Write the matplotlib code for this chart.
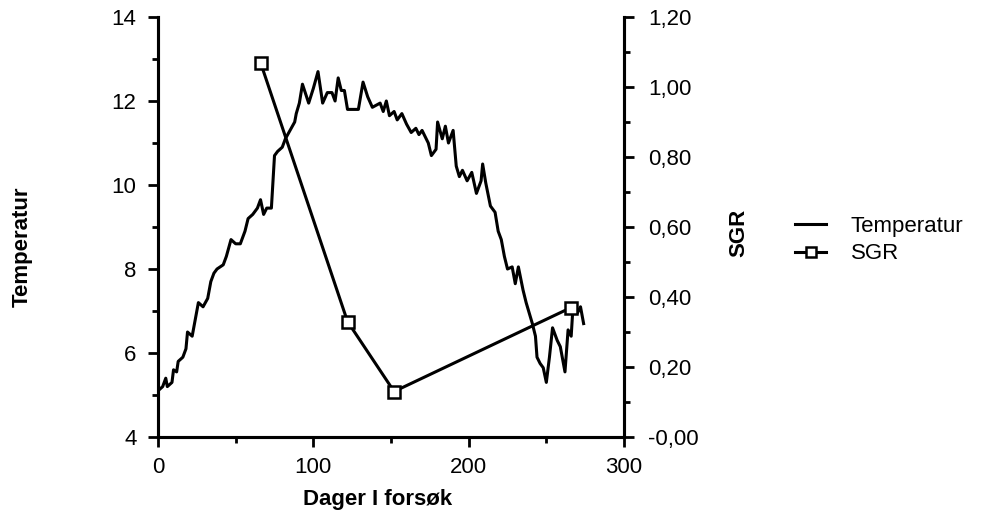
import matplotlib
matplotlib.use("Agg")
import matplotlib.pyplot as plt
from matplotlib.ticker import MultipleLocator, FuncFormatter

plt.rcParams['font.family'] = ['Liberation Sans', 'DejaVu Sans']

temp_days = [0, 3, 5, 6, 9, 10, 12, 13, 16, 18, 19, 22, 24, 26, 29, 32, 34, 36, 38, 42,
             44, 47, 50, 53, 56, 58, 61, 64, 66, 68, 70, 73, 75, 77, 80, 82, 85, 88, 89, 91,
             93, 97, 100, 103, 106, 109, 112, 114, 116, 118, 120, 122, 129, 132, 135, 138, 143, 145, 147, 149,
             152, 154, 157, 160, 163, 166, 168, 170, 174, 176, 179, 180, 183, 185, 187, 190, 192, 194, 196, 199,
             202, 205, 208, 209, 211, 214, 217, 219, 221, 223, 225, 228, 230, 232, 235, 237, 239, 241, 243, 244,
             246, 248, 250, 252, 254, 257, 259, 262, 264, 266, 267, 270, 272, 274]
temp_vals = [5.1, 5.2, 5.4, 5.2, 5.3, 5.6, 5.55, 5.8, 5.9, 6.1, 6.5, 6.4, 6.8, 7.2, 7.1, 7.3, 7.7, 7.9, 8.0, 8.1,
             8.3, 8.7, 8.6, 8.6, 8.9, 9.2, 9.3, 9.45, 9.65, 9.3, 9.45, 9.45, 10.7, 10.8, 10.9, 11.1, 11.3, 11.5, 11.7, 11.95,
             12.4, 11.95, 12.3, 12.7, 11.95, 12.2, 12.2, 12.0, 12.55, 12.25, 12.25, 11.8, 11.8, 12.45, 12.1, 11.85, 11.95, 11.75, 12.0, 11.65,
             11.75, 11.55, 11.7, 11.45, 11.25, 11.35, 11.2, 11.3, 11.0, 10.7, 10.85, 11.5, 11.1, 11.4, 11.0, 11.3, 10.45, 10.2, 10.35, 10.1,
             10.3, 9.8, 10.1, 10.5, 10.05, 9.5, 9.35, 8.9, 8.7, 8.3, 8.0, 8.05, 7.65, 8.05, 7.5, 7.2, 6.95, 6.7, 6.4, 5.9,
             5.75, 5.65, 5.3, 5.9, 6.6, 6.3, 6.15, 5.55, 6.55, 6.4, 7.0, 6.95, 7.1, 6.7]

sgr_days = [66, 122, 152, 266]
sgr_vals = [1.07, 0.33, 0.13, 0.37]

W, H = 992, 530
fig = plt.figure(figsize=(W / 100, H / 100), dpi=100)
ax = fig.add_axes([158 / W, 1 - 437 / H, (624 - 158) / W, (437 - 17) / H])
ax2 = ax.twinx()

lt, = ax.plot(temp_days, temp_vals, color='black', lw=2.2, label='Temperatur')
ls, = ax2.plot(sgr_days, sgr_vals, color='black', lw=2.2, marker='s', markersize=9,
               markerfacecolor='white', markeredgecolor='black', markeredgewidth=1.8,
               label='SGR', clip_on=False, zorder=5)

ax.set_xlim(0, 300)
ax.set_ylim(4, 14)
ax2.set_ylim(0, 1.2)

for a in (ax, ax2):
    a.spines['top'].set_visible(False)
    for s in ('left', 'right', 'bottom'):
        a.spines[s].set_linewidth(2.2)

ax.xaxis.set_major_locator(MultipleLocator(100))
ax.xaxis.set_minor_locator(MultipleLocator(50))
ax.yaxis.set_major_locator(MultipleLocator(2))
ax.yaxis.set_minor_locator(MultipleLocator(1))
ax2.yaxis.set_major_locator(MultipleLocator(0.2))
ax2.yaxis.set_minor_locator(MultipleLocator(0.1))

def sgr_fmt(v, pos):
    s = f"{v:.2f}".replace('.', ',')
    if abs(v) < 1e-9:
        s = "-0,00"
    return s
ax2.yaxis.set_major_formatter(FuncFormatter(sgr_fmt))

ax.tick_params(axis='both', which='major', direction='out', length=7.5, width=2, labelsize=16)
ax.tick_params(axis='y', which='major', pad=8)
ax.tick_params(axis='x', which='major', pad=7)
ax.tick_params(axis='both', which='minor', direction='out', length=4, width=2)
ax2.tick_params(axis='y', which='major', direction='out', length=7.5, width=2, labelsize=16, pad=10)
ax2.tick_params(axis='y', which='minor', direction='out', length=4, width=2)

fig.text(378 / W, 1 - 500 / H, 'Dager I forsøk', fontsize=16, fontweight='bold',
         ha='center', va='center')
fig.text(22 / W, 1 - 247 / H, 'Temperatur', fontsize=16, fontweight='bold',
         rotation=90, ha='center', va='center')
fig.text(739 / W, 1 - 233 / H, 'SGR', fontsize=16, fontweight='bold',
         rotation=90, ha='center', va='center')

fig.legend(handles=[lt, ls], labels=['Temperatur', 'SGR'], loc='center left',
           bbox_to_anchor=(795 / W, 1 - 240 / H), frameon=False, fontsize=16,
           handlelength=1.4, handletextpad=1.1, labelspacing=0.3,
           markerscale=0.75, borderaxespad=0, borderpad=0)

fig.savefig('out.png', dpi=100)
